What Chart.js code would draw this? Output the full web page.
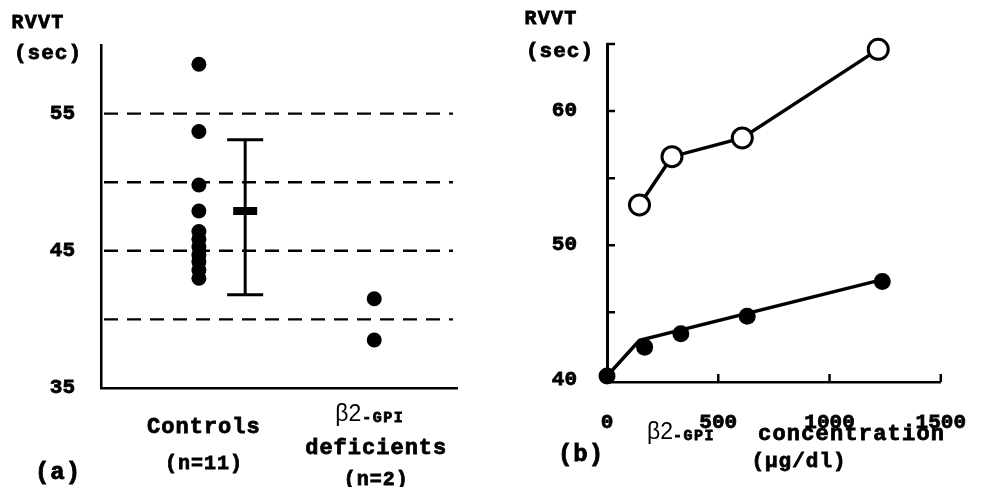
<!DOCTYPE html>
<html>
<head>
<meta charset="utf-8">
<script src="https://cdn.jsdelivr.net/npm/chart.js@4"></script>
<style>
  body { margin: 0; background: #fff; width: 986px; height: 487px; overflow: hidden; position: relative; }
  #panelA { position: absolute; left: 0; top: 0; }
  #panelB { position: absolute; left: 490px; top: 0; }
</style>
</head>
<body>
<canvas id="panelA" width="490" height="487"></canvas>
<canvas id="panelB" width="496" height="487"></canvas>
<script>
// panel (a): RVVT of controls vs beta2-GPI deficients
const groupX = [1.1, 3.07];
const controls = [58.6, 53.7, 49.8, 47.9, 46.4, 45.85, 45.3, 44.7, 44.2, 43.6, 43.0];
const deficients = [41.5, 38.5];
const errX = 1.62;
const ctrlMean = 47.9;
const ctrlHigh = 53.1;
const ctrlLow = 41.8;
const refLines = [40, 45, 50, 55];
const leftTickValues = [35, 40, 45, 50, 55, 60];
const leftTickLabels = [35, 45, 55];

// panel (b): RVVT vs beta2-GPI concentration
const concOpen = [146, 292, 608, 1219];
const rvvtOpen = [53.0, 56.6, 58.0, 64.6];
const concFilled = [0, 169, 332, 630, 1237];
const rvvtFilled = [40.25, 42.4, 43.4, 44.7, 47.3];
const fitConc = [0, 146, 1241];
const fitRvvt = [40.25, 42.9, 47.45];
const rightTickValues = [40, 45, 50, 55, 60, 65];
const rightTickLabels = [40, 50, 60];
const xTickValues = [0, 500, 1000, 1500];

const MONO = "'Liberation Mono', 'Courier New', monospace";
Chart.defaults.font.family = MONO;
Chart.defaults.font.weight = 'bold';
Chart.defaults.font.size = 21;
Chart.defaults.color = '#000';

function text(ctx, s, x, y, font, align, spacing, stroke) {
  const sw = stroke === undefined ? 0.8 : stroke;
  ctx.save();
  ctx.font = font;
  ctx.fillStyle = '#000';
  ctx.strokeStyle = '#000';
  ctx.textAlign = align || 'center';
  ctx.textBaseline = 'middle';
  ctx.letterSpacing = spacing || '0px';
  ctx.fillText(s, x, y);
  if (sw > 0) {
    ctx.lineWidth = sw;
    ctx.strokeText(s, x, y);
  }
  ctx.restore();
}

const pts = (xs, ys) => xs.map((x, i) => ({ x: x, y: ys[i] }));

const panelAExtras = {
  id: 'panelAExtras',
  beforeDatasetsDraw(chart) {
    const { ctx, scales: { x, y } } = chart;
    ctx.save();
    ctx.strokeStyle = '#000';
    ctx.lineWidth = 2.4;
    ctx.setLineDash([14, 9]);
    refLines.forEach(v => {
      const py = y.getPixelForValue(v);
      ctx.beginPath();
      ctx.moveTo(x.left + 3, py);
      ctx.lineTo(x.right - 4, py);
      ctx.stroke();
    });
    ctx.setLineDash([]);
    // mean +- SD bar
    const ex = x.getPixelForValue(errX);
    const yHi = y.getPixelForValue(ctrlHigh), yLo = y.getPixelForValue(ctrlLow), yM = y.getPixelForValue(ctrlMean);
    ctx.lineWidth = 3;
    ctx.beginPath();
    ctx.moveTo(ex, yHi); ctx.lineTo(ex, yLo);
    ctx.moveTo(ex - 18, yHi); ctx.lineTo(ex + 18, yHi);
    ctx.moveTo(ex - 18, yLo); ctx.lineTo(ex + 18, yLo);
    ctx.stroke();
    ctx.fillStyle = '#000';
    ctx.fillRect(ex - 12, yM - 4, 24, 8);
    ctx.restore();
  },
  afterDraw(chart) {
    const { ctx, scales: { x } } = chart;
    const c = x.getPixelForValue(groupX[0]);
    const d = x.getPixelForValue(groupX[1]);
    text(ctx, 'RVVT', 38, 23, 'bold 20px ' + MONO, 'center', '1.2px');
    text(ctx, '(sec)', 48, 54, 'bold 21px ' + MONO, 'center', '1px');
    text(ctx, 'Controls', c + 5, 427, 'bold 22px ' + MONO, 'center', '1px');
    text(ctx, '(n=11)', c + 5, 464, 'bold 20px ' + MONO, 'center', '1px');
    text(ctx, 'β2', d - 39, 415, '23px "Liberation Sans", sans-serif', 'left', '0px', 0);
    text(ctx, '-GPI', d - 12, 418, 'bold 15px ' + MONO, 'left', '1.5px');
    text(ctx, 'deficients', d + 2, 448, 'bold 22px ' + MONO, 'center', '1px');
    text(ctx, '(n=2)', d + 2, 480, 'bold 20px ' + MONO, 'center', '1px');
    text(ctx, '(a)', 58, 473, 'bold 24px ' + MONO, 'center', '1px');
  }
};

new Chart(document.getElementById('panelA'), {
  type: 'scatter',
  data: {
    datasets: [
      { data: controls.map(v => ({ x: groupX[0], y: v })), pointRadius: 7.5, backgroundColor: '#000', borderWidth: 0, clip: false },
      { data: deficients.map(v => ({ x: groupX[1], y: v })), pointRadius: 7.5, backgroundColor: '#000', borderWidth: 0, clip: false }
    ]
  },
  options: {
    responsive: false,
    animation: false,
    layout: { padding: { top: 45, right: 33, left: 0, bottom: 0 } },
    plugins: { legend: { display: false }, tooltip: { enabled: false } },
    scales: {
      x: {
        type: 'linear', min: 0, max: 4,
        ticks: { display: false },
        grid: { display: false },
        border: { color: '#000', width: 2.5 },
        afterFit(s) { s.height = 99; }
      },
      y: {
        min: 35, max: 60,
        afterBuildTicks(s) { s.ticks = leftTickValues.map(v => ({ value: v })); },
        ticks: { padding: 18, textStrokeColor: '#000', textStrokeWidth: 0.8,
                 callback: v => leftTickLabels.includes(v) ? String(v) : '' },
        grid: { display: false },
        border: { color: '#000', width: 2.5 },
        afterFit(s) { s.width = 101; }
      }
    }
  },
  plugins: [panelAExtras]
});

const panelBExtras = {
  id: 'panelBExtras',
  afterDraw(chart) {
    const { ctx, scales: { x, y } } = chart;
    ctx.save();
    ctx.strokeStyle = '#000';
    ctx.lineWidth = 2.5;
    ctx.beginPath();
    rightTickValues.slice(1).forEach(v => {
      const py = y.getPixelForValue(v);
      ctx.moveTo(x.left, py); ctx.lineTo(x.left + 8, py);
    });
    xTickValues.slice(1).forEach(v => {
      const px = x.getPixelForValue(v);
      ctx.moveTo(px, y.bottom); ctx.lineTo(px, y.bottom - 8);
    });
    ctx.stroke();
    ctx.restore();
    text(ctx, 'RVVT', 61, 19, 'bold 20px ' + MONO, 'center', '1.2px');
    text(ctx, '(sec)', 70, 52, 'bold 21px ' + MONO, 'center', '1px');
    text(ctx, 'β2', 157, 433, '23px "Liberation Sans", sans-serif', 'left', '0px', 0);
    text(ctx, '-GPI', 183, 436, 'bold 15px ' + MONO, 'left', '1.5px');
    text(ctx, 'concentration', 268, 434, 'bold 22px ' + MONO, 'left', '1.2px');
    text(ctx, '(µg/dl)', 309, 462, 'bold 21px ' + MONO, 'center', '1px');
    text(ctx, '(b)', 91, 455, 'bold 24px ' + MONO, 'center', '1px');
  }
};

new Chart(document.getElementById('panelB'), {
  type: 'scatter',
  data: {
    datasets: [
      { data: pts(concFilled, rvvtFilled), pointRadius: 8.5, backgroundColor: '#000', borderWidth: 0, clip: false },
      { data: pts(concOpen, rvvtOpen), showLine: true, borderColor: '#000', borderWidth: 3.5,
        pointRadius: 10, pointBackgroundColor: '#fff', pointBorderColor: '#000', pointBorderWidth: 3, clip: false },
      { data: pts(fitConc, fitRvvt), showLine: true, borderColor: '#000', borderWidth: 3.5, pointRadius: 0, clip: false }
    ]
  },
  options: {
    responsive: false,
    animation: false,
    layout: { padding: { top: 44, right: 41, left: 0, bottom: 0 } },
    plugins: { legend: { display: false }, tooltip: { enabled: false } },
    scales: {
      x: {
        type: 'linear', min: 0, max: 1500,
        afterBuildTicks(s) { s.ticks = xTickValues.map(v => ({ value: v })); },
        ticks: { padding: 20, maxRotation: 0, textStrokeColor: '#000', textStrokeWidth: 0.8, callback: v => String(v) },
        grid: { display: false },
        border: { color: '#000', width: 2.5 },
        afterFit(s) { s.height = 105; }
      },
      y: {
        min: 39.8, max: 65,
        afterBuildTicks(s) { s.ticks = rightTickValues.map(v => ({ value: v })); },
        ticks: { padding: 22, textStrokeColor: '#000', textStrokeWidth: 0.8,
                 callback: v => rightTickLabels.includes(v) ? String(v) : '' },
        grid: { display: false },
        border: { color: '#000', width: 3 },
        afterFit(s) { s.width = 117; }
      }
    }
  },
  plugins: [panelBExtras]
});
</script>
</body>
</html>
